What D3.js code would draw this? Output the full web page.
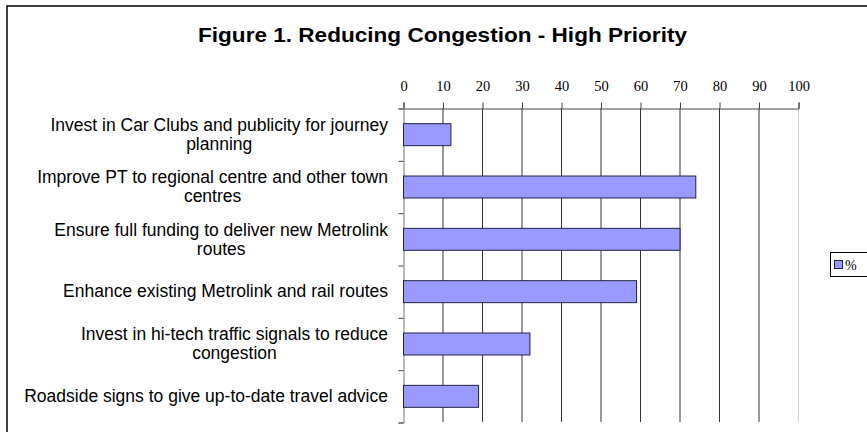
<!DOCTYPE html>
<html>
<script src="https://d3js.org/d3.v7.min.js"></script>
<style>
  body { margin: 0; background: #fff; }
</style>
<body>
<svg id="chart" width="867" height="432"></svg>
<script>
    // data
    const categories = [
        ["Invest in Car Clubs and publicity for journey", "planning"],
        ["Improve PT to regional centre and other town", "centres"],
        ["Ensure full funding to deliver new Metrolink", "routes"],
        ["Enhance existing Metrolink and rail routes"],
        ["Invest in hi-tech traffic signals to reduce", "congestion"],
        ["Roadside signs to give up-to-date travel advice"]
    ];
    const values = [12, 74, 70, 59, 32, 19];
    const xTicks = [0, 10, 20, 30, 40, 50, 60, 70, 80, 90, 100];
    const seriesName = "%";
    const title = "Figure 1. Reducing Congestion - High Priority";

    const svg = d3.select("#chart");
    const plotLeft = 403, plotRight = 798, plotTop = 108, plotBottom = 422;

    // outer frame (runs off the right and bottom edges)
    svg.append("rect")
        .attr("x", 7).attr("y", 6)
        .attr("width", 900).attr("height", 500)
        .attr("fill", "none")
        .attr("stroke", "#000")
        .attr("stroke-width", 1.5);

    svg.append("text")
        .attr("x", 442.5).attr("y", 41.5)
        .attr("text-anchor", "middle")
        .attr("font-family", "Arial, 'Liberation Sans', sans-serif")
        .attr("font-weight", "bold")
        .attr("font-size", 20)
        .attr("textLength", 489)
        .attr("lengthAdjust", "spacingAndGlyphs")
        .text(title);

    const x = d3.scaleLinear().domain([0, 100]).range([plotLeft, plotRight]);
    const y = d3.scaleBand()
        .domain(d3.range(categories.length))
        .range([plotTop, plotBottom])
        .paddingInner(0.58)
        .paddingOuter(0.29);
    const yEdge = d3.scaleLinear().domain([0, categories.length]).range([plotTop, plotBottom]);

    // vertical gridlines
    svg.append("g").selectAll("line")
        .data(xTicks.slice(1))
        .join("line")
        .attr("x1", d => x(d) + 0.5).attr("x2", d => x(d) + 0.5)
        .attr("y1", plotTop).attr("y2", plotBottom)
        .attr("stroke", d => d === 100 ? "#d4d4d4" : "#333")
        .attr("stroke-width", 1);

    // top axis
    const xAxis = svg.append("g")
        .attr("transform", `translate(0.5,${plotTop + 0.5})`)
        .call(d3.axisTop(x).tickValues(xTicks).tickSize(6).tickPadding(12));
    xAxis.select(".domain").attr("stroke", "#444");
    xAxis.selectAll(".tick line").attr("stroke", "#444");
    xAxis.selectAll("text")
        .attr("font-family", "'Times New Roman', 'Liberation Serif', serif")
        .attr("font-size", 14.5)
        .attr("fill", "#000");

    // left axis with ticks between categories
    const yAxis = svg.append("g")
        .attr("transform", `translate(${plotLeft + 0.5},0.5)`)
        .call(d3.axisLeft(yEdge).tickValues(d3.range(categories.length + 1)).tickSize(5).tickFormat(""));
    yAxis.select(".domain").attr("stroke", "#777");
    yAxis.selectAll(".tick line").attr("stroke", "#444");

    // bars
    svg.append("g").selectAll("rect")
        .data(values)
        .join("rect")
        .attr("x", x(0) + 0.5)
        .attr("y", (d, i) => y(i) + 0.5)
        .attr("width", d => x(d) - x(0))
        .attr("height", y.bandwidth())
        .attr("fill", "#9999ff")
        .attr("stroke", "#222244")
        .attr("stroke-width", 1);

    // category labels: block right aligned, lines centred in it
    const fs = 17.5, lh = 19;
    const labels = svg.append("g")
        .attr("font-family", "Arial, 'Liberation Sans', sans-serif")
        .attr("font-size", fs)
        .attr("fill", "#000");
    categories.forEach((lines, i) => {
        const cy = y(i) + y.bandwidth() / 2;
        const t = labels.append("text").attr("text-anchor", "middle");
        lines.forEach((s, j) => {
            t.append("tspan")
                .attr("y", cy + (j - (lines.length - 1) / 2) * lh + fs * 0.36)
                .text(s);
        });
        const w = d3.max(t.selectAll("tspan").nodes(), n => n.getComputedTextLength());
        t.selectAll("tspan").attr("x", 388 - w / 2);
    });

    // legend
    const lg = svg.append("g");
    lg.append("rect")
        .attr("x", 830.5).attr("y", 252.5)
        .attr("width", 60).attr("height", 24)
        .attr("fill", "#fff").attr("stroke", "#000");
    lg.append("rect")
        .attr("x", 834.5).attr("y", 260.5)
        .attr("width", 8).attr("height", 8)
        .attr("fill", "#9999ff").attr("stroke", "#222244");
    lg.append("text")
        .attr("x", 845).attr("y", 270)
        .attr("font-family", "'Times New Roman', 'Liberation Serif', serif")
        .attr("font-size", 14)
        .text(seriesName);
</script>
</body>
</html>
